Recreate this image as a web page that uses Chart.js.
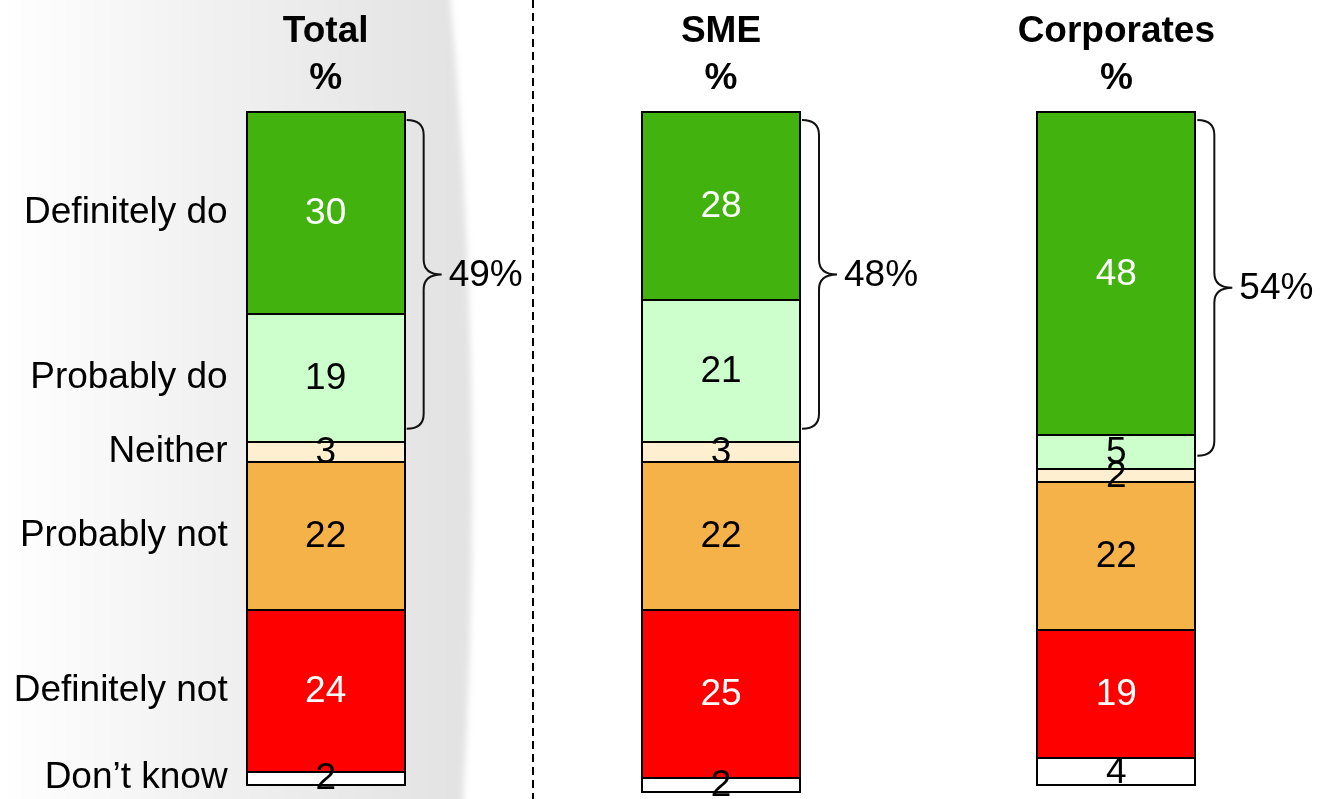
<!DOCTYPE html>
<html>
<head>
<meta charset="utf-8">
<script src="https://cdn.jsdelivr.net/npm/chart.js@4.4.1/dist/chart.umd.min.js"></script>
<style>
  html, body { margin: 0; padding: 0; background: #ffffff; }
  #wrap { width: 1328px; height: 799px; position: relative; }
</style>
</head>
<body>
<div id="wrap"><canvas id="c" width="1328" height="799"></canvas></div>
<script>
// ---- data ----
const categories = ['Total', 'SME', 'Corporates'];
const seriesLabels = ['Definitely do', 'Probably do', 'Neither', 'Probably not', 'Definitely not', 'Don\u2019t know'];
const definitelyDo = [30, 28, 48];
const probablyDo = [19, 21, 5];
const neither = [3, 3, 2];
const probablyNot = [22, 22, 22];
const definitelyNot = [24, 25, 19];
const dontKnow = [2, 2, 4];
const netDo = [49, 48, 54];

const seriesValues = [definitelyDo, probablyDo, neither, probablyNot, definitelyNot, dontKnow];
const seriesColors = ['#41B20E', '#CCFFCC', '#FDEFCF', '#F4B248', '#FF0000', '#FFFFFF'];
const labelColors = ['#FFFFFF', '#000000', '#000000', '#000000', '#FFFFFF', '#000000'];

const FONT = '"Liberation Sans", Arial, Helvetica, sans-serif';
const BAR_W = 158;

const datasets = seriesValues.map((vals, i) => ({
  label: seriesLabels[i],
  data: vals,
  backgroundColor: seriesColors[i],
  borderWidth: 0,
  barThickness: BAR_W,
  inflateAmount: 0
}));

const bgPlugin = {
  id: 'bg',
  beforeDraw(chart) {
    const ctx = chart.ctx;
    const xs = chart.scales.x;
    const barRight = xs.getPixelForValue(0) + BAR_W / 2;
    const h = chart.height;
    ctx.save();
    const edge = barRight + 50;
    const g = ctx.createLinearGradient(0, 0, edge, 0);
    g.addColorStop(0, '#ffffff');
    g.addColorStop(0.45, '#f1f1f1');
    g.addColorStop(1, '#e3e3e3');
    ctx.filter = 'blur(3px)';
    ctx.fillStyle = g;
    ctx.beginPath();
    ctx.moveTo(-10, -10);
    ctx.lineTo(edge - 5, -10);
    ctx.quadraticCurveTo(edge + 32, h * 0.5, edge + 8, h + 10);
    ctx.lineTo(-10, h + 10);
    ctx.closePath();
    ctx.fill();
    ctx.restore();

    // dashed divider
    const divX = (xs.getPixelForValue(0) + xs.getPixelForValue(1)) / 2 + 10;
    ctx.save();
    ctx.strokeStyle = '#000000';
    ctx.lineWidth = 2;
    ctx.setLineDash([8, 5]);
    ctx.beginPath();
    ctx.moveTo(Math.round(divX), 0);
    ctx.lineTo(Math.round(divX), h);
    ctx.stroke();
    ctx.restore();
  }
};

const annotPlugin = {
  id: 'annot',
  afterDatasetsDraw(chart) {
    const ctx = chart.ctx;
    const xs = chart.scales.x;
    const ys = chart.scales.y;
    ctx.save();

    // segment outlines
    ctx.strokeStyle = '#000000';
    ctx.lineWidth = 2;
    chart.data.datasets.forEach((ds, di) => {
      chart.getDatasetMeta(di).data.forEach((bar) => {
        const t = Math.round(Math.min(bar.y, bar.base));
        const b = Math.round(Math.max(bar.y, bar.base));
        const l = Math.round(bar.x - bar.width / 2);
        const r = Math.round(bar.x + bar.width / 2);
        ctx.strokeRect(l, t, r - l, b - t);
      });
    });

    // value labels
    ctx.font = '37px ' + FONT;
    ctx.textAlign = 'center';
    ctx.textBaseline = 'middle';
    chart.data.datasets.forEach((ds, di) => {
      const meta = chart.getDatasetMeta(di);
      meta.data.forEach((bar, i) => {
        ctx.fillStyle = labelColors[di];
        ctx.fillText(String(ds.data[i]), bar.x, (bar.y + bar.base) / 2 + 1);
      });
    });

    // left category labels (aligned on Total bar segments)
    ctx.textAlign = 'right';
    ctx.fillStyle = '#000000';
    const labelX = xs.getPixelForValue(0) - BAR_W / 2 - 19;
    chart.data.datasets.forEach((ds, di) => {
      const bar = chart.getDatasetMeta(di).data[0];
      ctx.fillText(ds.label, labelX, (bar.y + bar.base) / 2);
    });

    // column titles
    ctx.textAlign = 'center';
    ctx.font = 'bold 37px ' + FONT;
    const top = ys.getPixelForValue(0);
    categories.forEach((c, i) => {
      const x = xs.getPixelForValue(i);
      ctx.fillText(c, x, top - 80);
      ctx.fillText('%', x, top - 33);
    });

    // brackets for net "do"
    ctx.font = '37px ' + FONT;
    ctx.textAlign = 'left';
    ctx.strokeStyle = '#111111';
    ctx.lineWidth = 2;
    categories.forEach((c, i) => {
      const bar = chart.getDatasetMeta(1).data[i];
      const x0 = xs.getPixelForValue(i) + BAR_W / 2 + 2;
      const yTop = top + 8;
      const yBot = Math.max(bar.y, bar.base) - 13;
      const mid = (yTop + yBot) / 2;
      const xv = x0 + 17;
      const xt = xv + 18;
      const r = 15;
      ctx.beginPath();
      ctx.moveTo(x0, yTop);
      ctx.quadraticCurveTo(xv, yTop, xv, yTop + r);
      ctx.lineTo(xv, mid - r);
      ctx.quadraticCurveTo(xv, mid, xt, mid);
      ctx.quadraticCurveTo(xv, mid, xv, mid + r);
      ctx.lineTo(xv, yBot - r);
      ctx.quadraticCurveTo(xv, yBot, x0, yBot);
      ctx.stroke();
      ctx.fillStyle = '#000000';
      ctx.fillText(netDo[i] + '%', xt + 7, mid + 1);
    });
    ctx.restore();
  }
};

new Chart(document.getElementById('c'), {
  type: 'bar',
  data: { labels: categories, datasets },
  options: {
    responsive: false,
    animation: false,
    devicePixelRatio: 1,
    layout: { padding: { left: 128, right: 14, top: 112, bottom: 0 } },
    plugins: { legend: { display: false }, tooltip: { enabled: false } },
    scales: {
      x: { stacked: true, display: false, grid: { display: false } },
      y: { stacked: true, display: false, reverse: true, min: 0, max: 102.08, grid: { display: false } }
    }
  },
  plugins: [bgPlugin, annotPlugin]
});
</script>
</body>
</html>
